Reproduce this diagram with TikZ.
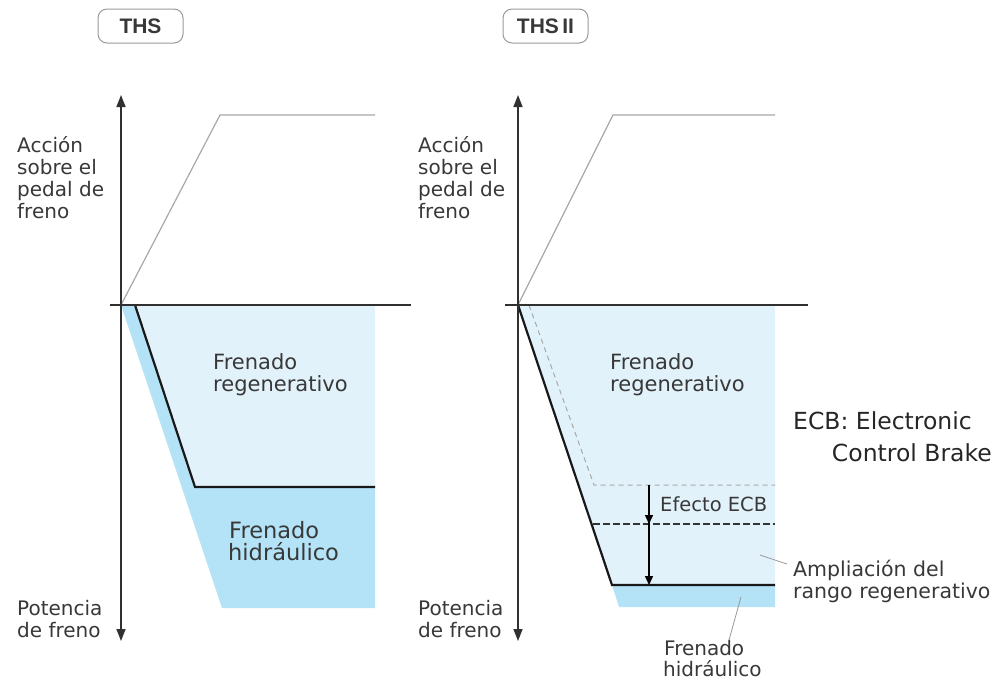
\documentclass[tikz,border=0pt]{standalone}
\usepackage{fontspec}
\setmainfont{DejaVu Sans}
\newfontfamily\titlefont{Liberation Sans}
\usetikzlibrary{arrows.meta}
\definecolor{lightfill}{HTML}{E2F2FB}
\definecolor{midfill}{HTML}{B4E2F6}
\definecolor{pedalgray}{HTML}{A8A8A8}
\definecolor{axisgray}{HTML}{303030}
\definecolor{textgray}{HTML}{383838}
\definecolor{boxgray}{HTML}{9A9A9A}
\tikzset{
  axisline/.style={draw=axisgray, line width=1.5pt, {Triangle[length=12pt,width=9pt]}-{Triangle[length=12pt,width=9pt]}},
  hline/.style={draw=axisgray, line width=1.5pt},
  pedal/.style={draw=pedalgray, line width=1.2pt},
  mainline/.style={draw=black!90, line width=2.2pt, line join=miter},
  ghost/.style={draw=pedalgray, line width=1pt, dash pattern=on 5pt off 4pt},
  ecbdash/.style={draw=black!80, line width=2.2pt, dash pattern=on 7pt off 3pt},
  ecbarrow/.style={draw=black, line width=1.4pt, -{Triangle[length=9pt,width=8pt]}},
  leader/.style={draw=gray!80, line width=0.8pt},
  lbl/.style={anchor=base west, inner sep=0pt, text=textgray, font=\fontsize{20}{21}\selectfont},
  biglbl/.style={lbl, font=\fontsize{21}{21}\selectfont},
  titlebox/.style={draw=boxgray, line width=1pt, rounded corners=9pt, minimum width=85pt, minimum height=34pt, inner sep=0pt, text=textgray, font=\titlefont\bfseries\fontsize{21}{21}\selectfont},
}
\begin{document}
\begin{tikzpicture}[x=1pt,y=-1pt]
\useasboundingbox (0,0) rectangle (1001,681);
% titles
\node[titlebox] (t1) at (140.5,26) {THS};
\node[titlebox] (t2) at (545.5,26) {THS\,II};

% ---------- left panel ----------
\fill[midfill] (121,305) -- (222,608) -- (375,608) -- (375,487) -- (195,487) -- (135,305) -- cycle;
\fill[lightfill] (135,305) -- (375,305) -- (375,487) -- (195,487) -- cycle;
\draw[mainline] (135,305) -- (195,487) -- (375,487);
\draw[pedal] (121,305) -- (220,115) -- (375,115);
\coordinate (l-top) at (121,95);
\coordinate (l-bot) at (121,641);
\draw[axisline] (l-bot) -- (l-top);
\coordinate (l-hl) at (110,305);
\coordinate (l-hr) at (411,305);
\draw[hline] (l-hl) -- (l-hr);

\node[lbl] (la1) at (17,152) {Acción};
\node[lbl] (la2) at (17,174) {sobre el};
\node[lbl] (la3) at (17,196) {pedal de};
\node[lbl] (la4) at (17,218) {freno};
\node[lbl] (lp1) at (17,615) {Potencia};
\node[lbl] (lp2) at (17,637) {de freno};
\node[biglbl] (lr1) at (213,369) {Frenado};
\node[biglbl] (lr2) at (213,391) {regenerativo};
\node[lbl, font=\fontsize{22.5}{22}\selectfont] (lh1) at (229,538) {Frenado};
\node[lbl, font=\fontsize{22.5}{22}\selectfont] (lh2) at (228,560) {hidráulico};

% ---------- right panel ----------
\fill[lightfill] (518,305) -- (775,305) -- (775,585) -- (612,585) -- cycle;
\fill[midfill] (612,585) -- (775,585) -- (775,607) -- (619,607) -- cycle;
\draw[ghost] (529,305) -- (594,485) -- (775,485);
\draw[ecbdash] (593,524) -- (775,524);
\draw[mainline] (518,305) -- (612,585) -- (775,585);
\draw[pedal] (518,305) -- (613,115) -- (775,115);
\coordinate (r-top) at (518,95);
\coordinate (r-bot) at (518,641);
\draw[axisline] (r-bot) -- (r-top);
\coordinate (r-hl) at (505,305);
\coordinate (r-hr) at (808,305);
\draw[hline] (r-hl) -- (r-hr);

\coordinate (ecb-start) at (649,485);
\coordinate (ecb-mid) at (649,524);
\coordinate (ecb-end) at (649,585);
\draw[ecbarrow] (ecb-start) -- (ecb-mid);
\draw[ecbarrow] (ecb-start) -- (ecb-end);

\node[lbl] (ra1) at (418,152) {Acción};
\node[lbl] (ra2) at (418,174) {sobre el};
\node[lbl] (ra3) at (418,196) {pedal de};
\node[lbl] (ra4) at (418,218) {freno};
\node[lbl] (rp1) at (418,615) {Potencia};
\node[lbl] (rp2) at (418,637) {de freno};
\node[biglbl] (rr1) at (610,369) {Frenado};
\node[biglbl] (rr2) at (610,391) {regenerativo};
\node[lbl, font=\fontsize{19.5}{19.5}\selectfont] (efecto) at (660,511) {Efecto ECB};

\node[lbl, text=black!85, font=\fontsize{23.5}{23.5}\selectfont] (ecb1) at (793,429) {ECB: Electronic};
\node[lbl, text=black!85, font=\fontsize{23.5}{23.5}\selectfont, anchor=base east] (ecb2) at (992,461) {Control Brake};

\node[lbl, font=\fontsize{20.5}{20.5}\selectfont] (amp1) at (793,576) {Ampliación del};
\node[lbl, font=\fontsize{20.5}{20.5}\selectfont] (amp2) at (793,598) {rango regenerativo};
\coordinate (amp-pt) at (760,555);
\coordinate (amp-end) at (787,564);
\draw[leader] (amp-pt) -- (amp-end);

\node[lbl] (rh1) at (664,655) {Frenado};
\node[lbl] (rh2) at (663,676) {hidráulico};
\coordinate (hyd-pt) at (741,597);
\coordinate (hyd-end) at (729,640);
\draw[leader] (hyd-pt) -- (hyd-end);
\end{tikzpicture}
\end{document}
